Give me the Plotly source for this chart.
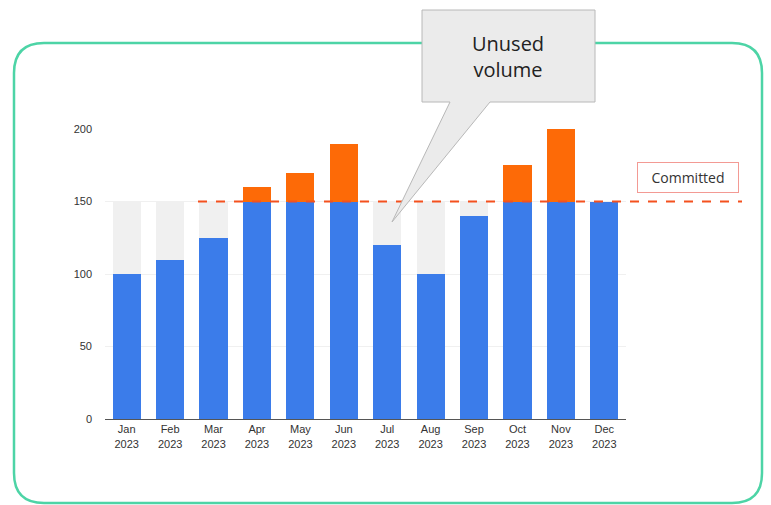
import plotly.graph_objects as go

months = ["Jan<br>2023", "Feb<br>2023", "Mar<br>2023", "Apr<br>2023", "May<br>2023", "Jun<br>2023",
          "Jul<br>2023", "Aug<br>2023", "Sep<br>2023", "Oct<br>2023", "Nov<br>2023", "Dec<br>2023"]
used = [100, 110, 125, 150, 150, 150, 120, 100, 140, 150, 150, 150]
unused = [50, 40, 25, 0, 0, 0, 30, 50, 10, 0, 0, 0]
overage = [0, 0, 0, 10, 20, 40, 0, 0, 0, 25, 50, 0]
committed = 150
yticks = [0, 50, 100, 150, 200]

W, H = 771, 505
L, R, T, B = 105, 145, 129, 86
pw, ph = W - L - R, H - T - B


def xp(px):
    return (px - L) / pw


def yp(py):
    return (H - B - py) / ph


fig = go.Figure()
fig.add_bar(x=months, y=used, marker_color="#3b7cea", marker_line_width=0, name="Used")
fig.add_bar(x=months, y=overage, marker_color="#fd6a07", marker_line_width=0, name="Overage")
fig.add_bar(x=months, y=unused, marker_color="#f0f0f0", marker_line_width=0, name="Unused")

shapes = []
# rounded green frame
x0, x1, y0, y1, r = 14, 762, 43, 503, 30
path = (f"M {xp(x0+r)},{yp(y0)} L {xp(x1-r)},{yp(y0)} Q {xp(x1)},{yp(y0)} {xp(x1)},{yp(y0+r)} "
        f"L {xp(x1)},{yp(y1-r)} Q {xp(x1)},{yp(y1)} {xp(x1-r)},{yp(y1)} "
        f"L {xp(x0+r)},{yp(y1)} Q {xp(x0)},{yp(y1)} {xp(x0)},{yp(y1-r)} "
        f"L {xp(x0)},{yp(y0+r)} Q {xp(x0)},{yp(y0)} {xp(x0+r)},{yp(y0)} Z")
shapes.append(dict(type="path", xref="paper", yref="paper", path=path,
                   line=dict(color="#4dd4a6", width=2.5), layer="below"))
# committed dashed line
shapes.append(dict(type="line", xref="paper", yref="y", x0=xp(198), x1=xp(742), y0=committed, y1=committed,
                   line=dict(color="#f4511e", width=2, dash="dash")))
# callout bubble
cp = (f"M {xp(422)},{yp(10)} L {xp(595)},{yp(10)} L {xp(595)},{yp(102)} L {xp(490)},{yp(102)} "
      f"L {xp(392)},{yp(222)} L {xp(450)},{yp(102)} L {xp(422)},{yp(102)} Z")
shapes.append(dict(type="path", xref="paper", yref="paper", path=cp,
                   fillcolor="#ebebeb", line=dict(color="#b8b8b8", width=1)))

annotations = [
    dict(xref="paper", yref="paper", x=xp(508), y=yp(57), xanchor="center", yanchor="middle",
         text="Unused<br>volume", showarrow=False, align="center",
         font=dict(family="Open Sans, sans-serif", size=20, color="#222222", weight=500)),
    dict(xref="paper", yref="paper", x=xp(688), y=yp(177), xanchor="center", yanchor="middle",
         text="Committed", showarrow=False, width=90, height=19,
         font=dict(family="Open Sans, sans-serif", size=14, color="#333333"),
         bgcolor="white", bordercolor="#f39a94", borderwidth=1, borderpad=5),
]

fig.update_layout(
    barmode="stack", bargap=0.35, width=W, height=H,
    margin=dict(l=L, r=R, t=T, b=B), paper_bgcolor="white", plot_bgcolor="white",
    showlegend=False, shapes=shapes, annotations=annotations,
    font=dict(family="Arial, Liberation Sans, sans-serif", size=11, color="#333333"),
)
fig.update_xaxes(showline=True, linecolor="#555555", linewidth=1, ticks="", tickfont=dict(size=11))
fig.update_yaxes(range=[0, 200], tickvals=yticks, showgrid=True, gridcolor="#f0f0f0",
                 zeroline=False, tickfont=dict(size=11), ticklabelstandoff=12)

fig.write_html("out.html")
